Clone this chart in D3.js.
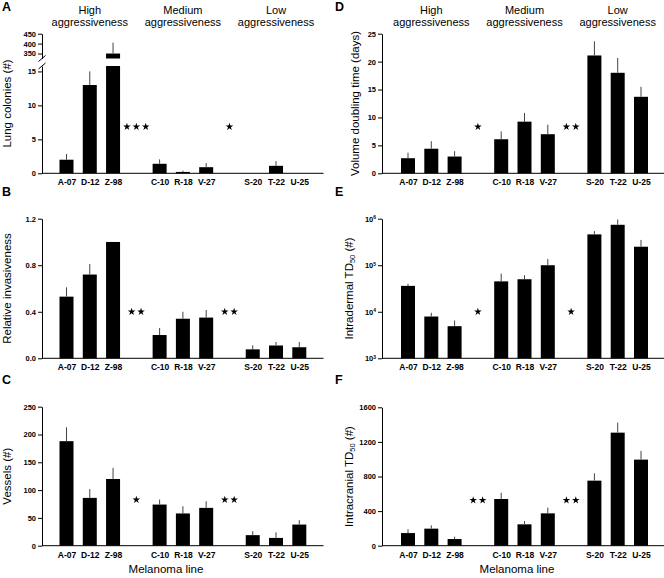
<!DOCTYPE html>
<html>
<head>
<meta charset="utf-8">
<script src="https://cdn.jsdelivr.net/npm/d3@7"></script>
<style>
  body { margin: 0; background: #fff; }
  svg { display: block; font-family: "Liberation Sans", Arial, sans-serif; }
</style>
</head>
<body>
<svg id="fig" width="664" height="578"></svg>
<script>
// melanoma lines, in 3 groups of 3
var lines = ["A-07", "D-12", "Z-98", "C-10", "R-18", "V-27", "S-20", "T-22", "U-25"];
var groups = ["High", "Medium", "Low"];

// means and SEM
var lungColonies    = [2, 13, 350, 1.4, 0.2, 0.9, 0, 1.1, 0];
var lungColoniesSem = [0.85, 2, 55, 0.65, 0.2, 0.6, 0, 0.7, 0];
var invasiveness    = [0.53, 0.72, 1.0, 0.2, 0.34, 0.35, 0.077, 0.11, 0.095];
var invasivenessSem = [0.08, 0.09, 0, 0.06, 0.06, 0.065, 0.035, 0.03, 0.045];
var vessels         = [188, 86, 120, 74, 58, 68, 19, 14, 38];
var vesselsSem      = [25, 16, 20, 9, 13, 12, 7, 10, 8];
var doubling        = [2.7, 4.4, 3.0, 6.1, 9.25, 7.0, 21.1, 18.0, 13.7];
var doublingSem     = [1.0, 1.35, 0.95, 1.4, 1.55, 1.7, 2.55, 2.65, 1.8];
var intradermal     = [3.6e4, 7.9e3, 4.9e3, 4.5e4, 5.0e4, 1.0e5, 4.6e5, 7.4e5, 2.5e5];
var intradermalSem  = [4e3, 1.6e3, 1.6e3, 2.1e4, 1.1e4, 3.6e4, 8e4, 2.2e5, 1e5];
var intracranial    = [146, 197, 77, 540, 247, 374, 752, 1307, 995];
var intracranialSem = [43, 38, 27, 73, 38, 66, 85, 116, 100];

// significance stars: [high vs medium, medium vs low]
var starsA = [3, 1], starsB = [2, 2], starsC = [1, 2];
var starsD = [1, 2], starsE = [1, 1], starsF = [2, 2];

var svg = d3.select("#fig");

// slot index: 3 bars, a gap for the stars, 3 bars, gap, 3 bars
function slot(i) { return i + Math.floor(i / 3); }

var cols = {
  left:  { axisX: 42,  end: 323.5, c0: 66.5, c10: 299.3, letterX: 2,   labelX: 11,  footX: 166 },
  right: { axisX: 382, end: 664,   c0: 408,  c10: 641,   letterX: 335, labelX: 353, footX: 517 }
};

var panels = [
  { letter: "A", col: "left",  top: 33.7,  bottom: 173.3, values: lungColonies, sem: lungColoniesSem, stars: starsA,
    label: ["Lung colonies (#)"], broken: true, heads: true },
  { letter: "B", col: "left",  top: 218.7, bottom: 358.3, values: invasiveness, sem: invasivenessSem, stars: starsB,
    label: ["Relative invasiveness"], domain: [0, 1.2], ticks: [0, 0.4, 0.8, 1.2], fmt: d3.format(".1f") },
  { letter: "C", col: "left",  top: 406.7, bottom: 545.7, values: vessels, sem: vesselsSem, stars: starsC,
    label: ["Vessels (#)"], domain: [0, 250], ticks: d3.range(0, 251, 50), fmt: d3.format("d"), foot: true },
  { letter: "D", col: "right", top: 33.7,  bottom: 173.3, values: doubling, sem: doublingSem, stars: starsD,
    label: ["Volume doubling time (days)"], domain: [0, 25], ticks: d3.range(0, 26, 5), fmt: d3.format("d"), heads: true, labelX: 359 },
  { letter: "E", col: "right", top: 218.7, bottom: 358.3, values: intradermal, sem: intradermalSem, stars: starsE,
    label: ["Intradermal TD", "50", " (#)"], log: true, domain: [1e3, 1e6], ticks: [1e3, 1e4, 1e5, 1e6] },
  { letter: "F", col: "right", top: 407.3, bottom: 545.7, values: intracranial, sem: intracranialSem, stars: starsF,
    label: ["Intracranial TD", "50", " (#)"], domain: [0, 1600], ticks: d3.range(0, 1601, 400), fmt: d3.format("d"), foot: true }
];

panels.forEach(drawPanel);

function styleAxis(g) {
  g.select(".domain").attr("stroke", "#000").attr("stroke-width", 1);
  g.selectAll(".tick line").attr("stroke", "#000");
  g.selectAll("text").attr("font-size", "7.5px").attr("font-weight", "bold").attr("fill", "#000");
}

function drawPanel(p) {
  var c = cols[p.col];
  var g = svg.append("g");
  var x = d3.scalePoint().domain(d3.range(11)).range([c.c0, c.c10]);
  var bw = 14;

  // y scale(s)
  var yLow, yUp;
  if (p.broken) {
    yLow = d3.scaleLinear().domain([0, 15.8]).range([p.bottom, 66]);
    yUp = d3.scaleLinear().domain([325, 450]).range([58.5, p.top]);
  } else if (p.log) {
    yLow = d3.scaleLog().domain(p.domain).range([p.bottom, p.top]);
  } else {
    yLow = d3.scaleLinear().domain(p.domain).range([p.bottom, p.top]);
  }

  // bars
  p.values.forEach(function(v, i) {
    var cx = x(slot(i));
    var base = p.log ? p.domain[0] : 0;
    var top, errTop;
    if (p.broken && v > 15.8) {
      g.append("rect").attr("x", cx - bw / 2).attr("width", bw)
        .attr("y", yLow(15.8)).attr("height", yLow(0) - yLow(15.8)).attr("fill", "#000");
      g.append("rect").attr("x", cx - bw / 2).attr("width", bw)
        .attr("y", yUp(v)).attr("height", yUp(325) - yUp(v)).attr("fill", "#000");
      top = yUp(v); errTop = yUp(v + p.sem[i]);
    } else {
      g.append("rect").attr("x", cx - bw / 2).attr("width", bw)
        .attr("y", yLow(v)).attr("height", yLow(base) - yLow(v)).attr("fill", "#000");
      top = yLow(v); errTop = yLow(v + p.sem[i]);
    }
    if (p.sem[i] > 0) {
      g.append("line").attr("x1", cx).attr("x2", cx).attr("y1", top).attr("y2", errTop)
        .attr("stroke", "#444").attr("stroke-width", 1);
    }
  });

  // y axis
  if (p.broken) {
    g.append("g").attr("transform", "translate(" + c.axisX + ",0)")
      .call(d3.axisLeft(yLow).tickValues([0, 5, 10, 15]).tickFormat(d3.format("d")).tickSize(4).tickSizeOuter(0).tickPadding(2))
      .call(styleAxis);
    g.append("g").attr("transform", "translate(" + c.axisX + ",0)")
      .call(d3.axisLeft(yUp).tickValues([350, 400, 450]).tickFormat(d3.format("d")).tickSize(4).tickSizeOuter(0).tickPadding(2))
      .call(styleAxis);
    [58.5, 66].forEach(function(yy) {
      g.append("line").attr("x1", c.axisX - 3.5).attr("x2", c.axisX + 3.5)
        .attr("y1", yy + 3).attr("y2", yy - 3).attr("stroke", "#000");
    });
  } else {
    var ax = d3.axisLeft(yLow).tickValues(p.ticks).tickSize(4).tickSizeOuter(0).tickPadding(2);
    if (p.fmt) ax.tickFormat(p.fmt); else ax.tickFormat(function() { return ""; });
    var ag = g.append("g").attr("transform", "translate(" + c.axisX + ",0)").call(ax).call(styleAxis);
    if (p.log) {
      ag.selectAll(".tick text").each(function(d) {
        var t = d3.select(this);
        t.text("10");
        t.append("tspan").attr("dy", "-0.45em").attr("font-size", "5px").text(Math.round(Math.log10(d)));
      });
    }
  }

  // x axis
  g.append("line").attr("x1", c.axisX).attr("x2", c.end).attr("y1", p.bottom).attr("y2", p.bottom)
    .attr("stroke", "#000").attr("stroke-width", 1);
  g.append("g").attr("transform", "translate(0," + p.bottom + ")")
    .call(d3.axisBottom(x).tickValues(lines.map(function(d, i) { return slot(i); }))
      .tickFormat(function(s) { return lines[s - Math.floor(s / 4)]; }).tickSize(0).tickPadding(6))
    .call(function(a) {
      a.select(".domain").remove();
      a.selectAll("text").attr("font-size", "8.5px").attr("font-weight", "bold").attr("fill", "#000");
    });

  // stars in the gap slots
  var star = d3.symbol().type(d3.symbolStar).size(18);
  [3, 7].forEach(function(s, k) {
    var n = p.stars[k];
    for (var j = 0; j < n; j++) {
      g.append("path").attr("d", star)
        .attr("transform", "translate(" + (x(s) + (j - (n - 1) / 2) * 9.4) + "," + (p.top + 93) + ")")
        .attr("fill", "#000");
    }
  });

  // panel letter
  g.append("text").attr("x", c.letterX).attr("y", p.top - 23)
    .attr("font-size", "12.5px").attr("font-weight", "bold").text(p.letter);

  // y label
  var lx = p.labelX || c.labelX;
  var yl = g.append("text").attr("transform", "translate(" + lx + "," + ((p.top + p.bottom) / 2) + ") rotate(-90)")
    .attr("text-anchor", "middle").attr("font-size", "11.5px");
  yl.append("tspan").text(p.label[0]);
  if (p.label.length > 1) {
    yl.append("tspan").attr("font-size", "7.5px").attr("dy", "0.3em").text(p.label[1]);
    yl.append("tspan").attr("dy", "-0.2em").text(p.label[2]);
  }

  // group headings above the top panels
  if (p.heads) {
    groups.forEach(function(gr, k) {
      var t = g.append("text").attr("x", x(slot(k * 3 + 1))).attr("text-anchor", "middle").attr("font-size", "11px");
      t.append("tspan").attr("x", x(slot(k * 3 + 1))).attr("y", 14).text(gr);
      t.append("tspan").attr("x", x(slot(k * 3 + 1))).attr("y", 25.5).text("aggressiveness");
    });
  }

  // x title below the bottom panels
  if (p.foot) {
    g.append("text").attr("x", c.footX).attr("y", 573).attr("text-anchor", "middle")
      .attr("font-size", "11.5px").text("Melanoma line");
  }
}
</script>
</body>
</html>
